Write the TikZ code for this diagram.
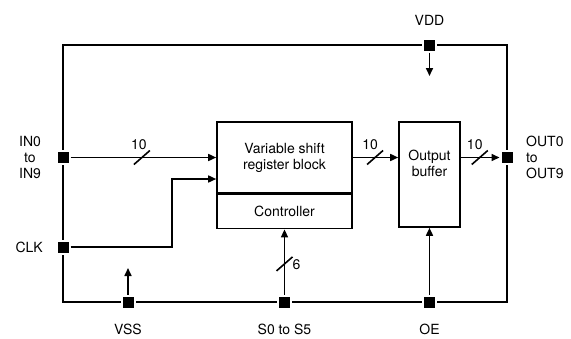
\documentclass[tikz,border=0pt]{standalone}
\usepackage{fontspec}
\setmainfont{TeX Gyre Heros}
\usetikzlibrary{arrows.meta,positioning,calc}

\begin{document}
\begin{tikzpicture}[x=1pt, y=-1pt, font=\fontsize{14}{16}\selectfont]
    \tikzstyle{pin} = [rectangle, fill=black, draw=white, line width=2pt, minimum size=13pt, inner sep=0pt]
    \tikzstyle{block} = [rectangle, draw=black, line width=1.6pt, align=center, inner sep=2pt]
    \tikzstyle{wire} = [line width=1.6pt, draw=black]
    \tikzstyle{arr} = [wire, -{Triangle[length=8pt, width=7pt]}]
    \tikzstyle{tag} = [inner sep=0pt, align=center]

    \useasboundingbox (0,0) rectangle (571,338);

    % chip outline
    \draw [wire] (63,45) rectangle (507,302);

    \node [block, minimum width=135pt, minimum height=71pt] (vsr) at (284.5,157.5) {Variable shift\\register block};
    \node [block, minimum width=135pt, minimum height=34pt, below=0pt of vsr] (ctrl) {Controller};
    \node [block, minimum width=61pt, minimum height=105pt] (obuf) at (429.5,174.5) {Output\\buffer\\[6pt]};

    % pins
    \node [pin] (vdd) at (429.5,45) {};
    \node [pin] (in) at (63,157.5) {};
    \node [pin] (clk) at (63,247) {};
    \node [pin] (vss) at (128,302) {};
    \node [pin] (sel) at (284.5,302) {};
    \node [pin] (oe) at (429.5,302) {};
    \node [pin] (out) at (507,157.5) {};

    \node [tag] at (429.5,20) {VDD};
    \node [tag] at (30,157.5) {IN0\\to\\IN9};
    \node [tag, anchor=east] at (43,247) {CLK};
    \node [tag] at (128,329) {VSS};
    \node [tag] at (284.5,329) {S0 to S5};
    \node [tag] at (429.5,329) {OE};
    \node [tag, align=left, anchor=west] at (526,157.5) {OUT0\\to\\OUT9};

    \coordinate (vddin) at (429.5,76);
    \coordinate (vssout) at (128,268);
    \coordinate (clkin) at ([yshift=-21.5pt]vsr.west);

    % connectors
    \draw [arr] (vdd.south) -- (vddin);
    \draw [arr] (vss.north) -- (vssout);
    \draw [arr] (in.east) -- coordinate[pos=0.49] (b1) (vsr.west);
    \draw [arr] (clk.east) -| ($(clkin)+(-44,0)$) -- (clkin);
    \draw [arr] (vsr.east) -- coordinate[pos=0.49] (b2) (obuf.west |- vsr.east);
    \draw [arr] (obuf.east |- vsr.east) -- coordinate[pos=0.49] (b3) (out.west);
    \draw [arr] (sel.north) -- coordinate[pos=0.47] (b4) (ctrl.south);
    \draw [arr] (oe.north) -- (obuf.south);

    % bus widths
    \draw [wire] ($(b1)+(-8,7)$) -- ($(b1)+(8,-7)$);
    \node [tag] at ($(b1)+(-3,-13)$) {10};
    \draw [wire] ($(b2)+(-8,7)$) -- ($(b2)+(8,-7)$);
    \node [tag] at ($(b2)+(-5,-13)$) {10};
    \draw [wire] ($(b3)+(-8,7)$) -- ($(b3)+(8,-7)$);
    \node [tag] at ($(b3)+(-5,-13)$) {10};
    \draw [wire] ($(b4)+(-8,7)$) -- ($(b4)+(8,-7)$);
    \node [tag] at ($(b4)+(12,1)$) {6};
\end{tikzpicture}
\end{document}
